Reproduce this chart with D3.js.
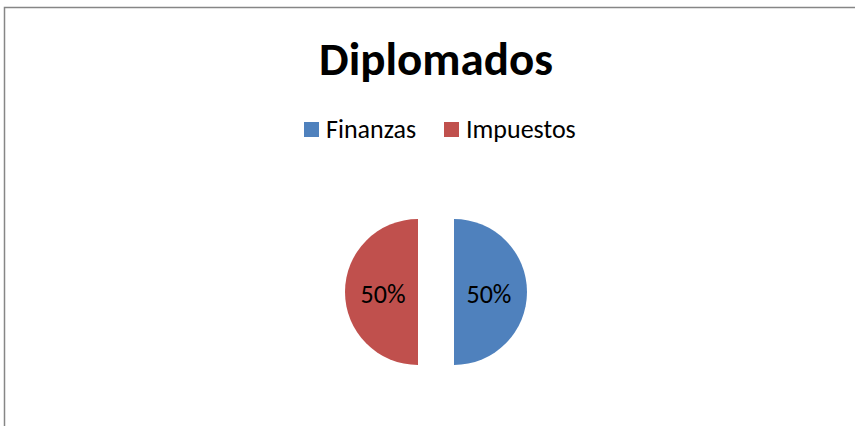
<!DOCTYPE html>
<html>
<head>
<meta charset="utf-8">
<script src="https://cdn.jsdelivr.net/npm/d3@7"></script>
<style>
  html, body { margin: 0; padding: 0; background: #fff; }
  svg { display: block; font-family: Carlito, Calibri, Lato, sans-serif; }
</style>
</head>
<body>
<svg id="chart" width="855" height="426"></svg>
<script>
// chart data
const title = "Diplomados";
const categories = ["Finanzas", "Impuestos"];
const values = [50, 50];
const colors = ["#4F81BD", "#C0504D"];

const svg = d3.select("#chart");

// outer frame, runs off the right and bottom edge like the screenshot
svg.append("rect")
  .attr("x", 4.5)
  .attr("y", 7.5)
  .attr("width", 900)
  .attr("height", 500)
  .attr("fill", "#fff")
  .attr("stroke", "#868686")
  .attr("stroke-width", 1.5);

// title
svg.append("text")
  .attr("x", 436)
  .attr("y", 75)
  .attr("text-anchor", "middle")
  .style("font-size", "47px")
  .style("font-weight", "bold")
  .text(title);

// legend
const legendX = [304, 444];
const legend = svg.append("g");
categories.forEach((c, i) => {
  legend.append("rect")
    .attr("x", legendX[i])
    .attr("y", 122)
    .attr("width", 15)
    .attr("height", 15)
    .attr("fill", colors[i]);
  legend.append("text")
    .attr("x", legendX[i] + 22)
    .attr("y", 138)
    .style("font-size", "26px")
    .text(c);
});

// pie, exploded halves
const cx = 436, cy = 292, r = 73, explode = 18;
const total = d3.sum(values);
const pie = d3.pie().sort(null).value(d => d)(values);
const arc = d3.arc().innerRadius(0).outerRadius(r);

const slices = svg.append("g")
  .attr("transform", `translate(${cx},${cy})`)
  .selectAll("g")
  .data(pie)
  .join("g")
  .attr("transform", d => {
    const a = (d.startAngle + d.endAngle) / 2;
    return `translate(${Math.sin(a) * explode},${-Math.cos(a) * explode})`;
  });

slices.append("path")
  .attr("d", arc)
  .attr("fill", (d, i) => colors[i]);

slices.append("text")
  .attr("x", d => {
    const a = (d.startAngle + d.endAngle) / 2;
    return Math.sin(a) * 35;
  })
  .attr("y", 11)
  .attr("text-anchor", "middle")
  .style("font-size", "26px")
  .text(d => Math.round(d.data / total * 100) + "%");
</script>
</body>
</html>
